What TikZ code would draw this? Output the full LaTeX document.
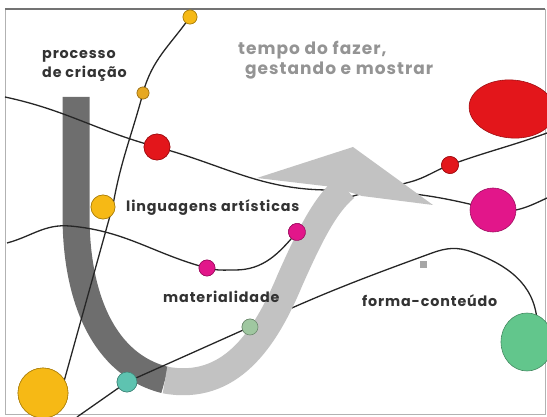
\documentclass[tikz,border=0pt]{standalone}
\usepackage{fontspec}
\setmainfont{Poppins}
\usepackage{xcolor}
\usetikzlibrary{positioning, shapes.geometric}

\definecolor{bandDark}{HTML}{6E6E6E}
\definecolor{bandLight}{HTML}{C2C2C2}
\definecolor{dotYellow}{HTML}{F6B915}
\definecolor{dotRed}{HTML}{E3161B}
\definecolor{dotMagenta}{HTML}{E2168A}
\definecolor{dotTeal}{HTML}{5EC3B0}
\definecolor{dotGreen}{HTML}{62C68C}
\definecolor{dotPale}{HTML}{9FC7A0}

\begin{document}
\begin{tikzpicture}[x=1pt,y=-1pt,
    dot/.style={circle, draw=#1!70!black, line width=0.6pt, fill=#1, inner sep=0pt},
    blob/.style={ellipse, draw=#1!70!black, line width=0.6pt, fill=#1, inner sep=0pt},
    thread/.style={black!85, line width=1.3pt},
    lbl/.style={font=\bfseries\fontsize{14.3}{19}\selectfont\addfontfeature{LetterSpace=6}, text=black!80, inner sep=0pt},
    ghost/.style={font=\bfseries\fontsize{17}{20.5}\selectfont\addfontfeature{LetterSpace=6}, text=black!42, inner sep=0pt, align=left}]
\useasboundingbox (0,0) rectangle (547,417);
\draw[black!30, line width=0.6pt] (5,9) rectangle (545,414);
\draw[black!55, line width=2.5pt] (5,9) -- (545,9);

% dots and blobs
\path (190,17) node[dot=dotYellow, minimum size=14pt] (ytop) {}
      (143,93) node[dot=dotYellow!70!brown, minimum size=12pt] (ysmall) {}
      (157,147) node[dot=dotRed, minimum size=26pt] (rdot) {}
      (103,207) node[dot=dotYellow, minimum size=24pt] (ymid) {}
      (207,268) node[dot=dotMagenta, minimum size=16pt] (mdot) {}
      (297,232) node[dot=dotMagenta, minimum width=12pt, minimum height=17pt, rotate=30] (moval) {}
      (250,327) node[dot=dotPale, minimum size=16pt] (gdot) {}
      (127,382) node[dot=dotTeal, minimum size=20pt] (tdot) {}
      (43,393) node[dot=dotYellow, minimum size=50pt] (ybig) {}
      (450,165) node[dot=dotRed, minimum width=11pt, minimum height=17pt, rotate=20] (rsmall) {}
      (423,265) node[fill=black!35, minimum size=7pt, inner sep=0pt] (gsq) {};
\coordinate (rbig) at (512,109);
\coordinate (mblob) at (493,210);
\coordinate (gblob) at (527,342);

% dark band
\draw[bandDark, line width=27pt] (76,97) -- (76,215) .. controls (76,300) and (105,365) .. (165,380);

% threads
\draw[thread] (5,97) to[out=-12,in=165] (rdot.center) to[out=-15,in=180] (330,190)
      to[out=0,in=165] (mblob) to[out=-10,in=205] (547,198);
\draw[thread] (7,243) to[out=15,in=175] (70,226) to[out=-5,in=165] (mdot.center)
      to[out=-15,in=180] (235,270) to[out=0,in=230] (moval.center)
      to[out=50,in=195] (410,182) to[out=15,in=200] (rsmall.center) to[out=20,in=200] (547,133);
\draw[thread] (ytop.center) to[out=-125,in=75] (ysmall.center) to[out=-105,in=80] (113,205)
      -- (63,385) -- (ybig.center);
\draw[thread] (77,417) -- (tdot.center) -- (gdot.center) to[out=25,in=200] (432,253)
      to[out=20,in=160] (472,252) to[out=-20,in=95] (537,320);

% light arrow
\draw[bandLight, line width=27pt] (165,380) .. controls (230,392) and (265,340) .. (290,280)
      .. controls (310,235) and (325,205) .. (345,188);
\fill[bandLight] (257,178) -- (353,147) -- (433,205) -- (362,196) -- (333,187) -- cycle;

% redraw dots above threads
\path (ytop) node[dot=dotYellow, minimum size=14pt] {}
      (ysmall) node[dot=dotYellow!70!brown, minimum size=12pt] {}
      (rdot) node[dot=dotRed, minimum size=26pt] {}
      (ymid) node[dot=dotYellow, minimum size=24pt] {}
      (mdot) node[dot=dotMagenta, minimum size=16pt] {}
      (moval) node[dot=dotMagenta, minimum width=12pt, minimum height=17pt, rotate=30] {}
      (gdot) node[dot=dotPale, minimum size=16pt] {}
      (tdot) node[dot=dotTeal, minimum size=20pt] {}
      (ybig) node[dot=dotYellow, minimum size=50pt] {}
      (rsmall) node[dot=dotRed, minimum width=11pt, minimum height=17pt, rotate=20] {};
\node[blob=dotRed, minimum width=86pt, minimum height=58pt, rotate=-5] (rbign) at (rbig) {};
\node[blob=dotMagenta, minimum width=46pt, minimum height=44pt] (mblobn) at (mblob) {};
\node[blob=dotGreen, minimum width=52pt, minimum height=58pt] (gblobn) at (gblob) {};

% labels
\node[lbl, align=left, anchor=west] (proc) at (42,66) {processo\\de criação};
\node[lbl, anchor=west] (ling) at (126,208) {linguagens artísticas};
\node[lbl, anchor=west] (mat) at (163,297) {materialidade};
\node[lbl, anchor=west] (forma) at (362,301) {forma-conteúdo};
\node[ghost, anchor=west] (tempo) at (238,60) {tempo do fazer,\\\hspace*{7pt}gestando e mostrar};
\end{tikzpicture}
\end{document}
